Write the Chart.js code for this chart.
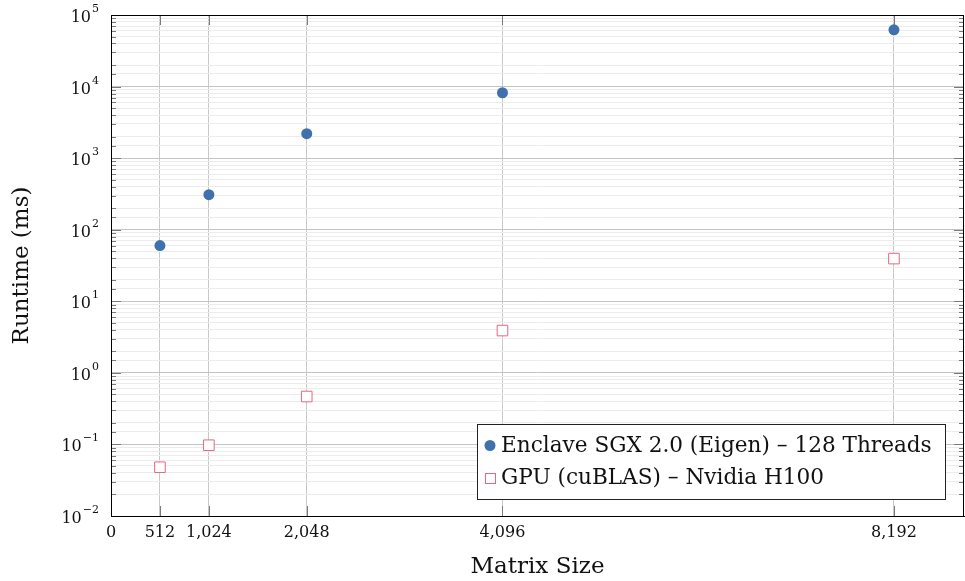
<!DOCTYPE html>
<html>
<head>
<meta charset="utf-8">
<script src="https://cdn.jsdelivr.net/npm/chart.js@4"></script>
<style>
  html, body { margin: 0; padding: 0; background: #fff; }
  #wrap { width: 965px; height: 581px; }
</style>
</head>
<body>
<div id="wrap"><canvas id="runtimeChart" width="965" height="581"></canvas></div>
<script>
// matrix sizes and runtimes (ms)
var sizes = [512, 1024, 2048, 4096, 8192];
var enclaveMs = [60, 309, 2200, 8200, 62000];
var gpuMs = [0.048, 0.0975, 0.467, 3.9, 39.5];
var xTicks = [0, 512, 1024, 2048, 4096, 8192];
var yDecades = [-2, -1, 0, 1, 2, 3, 4, 5];

var labelEnclave = 'Enclave SGX 2.0 (Eigen) \u2013 128 Threads';
var labelGpu = 'GPU (cuBLAS) \u2013 Nvidia H100';
var blue = '#3f72ad';
var pink = '#e8667f';
var serif = "'DejaVu Serif', serif";

function pairs(xs, ys) {
    var out = [];
    for (var i = 0; i < xs.length; i++) {
        out.push({ x: xs[i], y: ys[i] });
    }
    return out;
}

function isDecade(v) {
    var l = Math.log10(v);
    return Math.abs(l - Math.round(l)) < 1e-9;
}

// frame, inward ticks, y labels with exponents and the legend box
var decorPlugin = {
    id: 'decor',
    afterDraw: function (chart) {
        var ctx = chart.ctx;
        var a = chart.chartArea;
        var ys = chart.scales.y;
        var xs = chart.scales.x;
        ctx.save();

        // tick marks
        ctx.strokeStyle = '#7a7a7a';
        ctx.lineWidth = 1;
        ys.ticks.forEach(function (t) {
            var py = Math.round(ys.getPixelForValue(t.value)) + 0.5;
            var len = isDecade(t.value) ? 10 : 5;
            ctx.beginPath();
            ctx.moveTo(a.left, py); ctx.lineTo(a.left + len, py);
            ctx.moveTo(a.right, py); ctx.lineTo(a.right - len, py);
            ctx.stroke();
        });
        sizes.forEach(function (s) {
            var px = Math.round(xs.getPixelForValue(s)) + 0.5;
            ctx.beginPath();
            ctx.moveTo(px, a.bottom); ctx.lineTo(px, a.bottom - 10);
            ctx.moveTo(px, a.top); ctx.lineTo(px, a.top + 10);
            ctx.stroke();
        });

        // frame
        ctx.strokeStyle = '#000';
        ctx.strokeRect(Math.round(a.left) + 0.5, Math.round(a.top) + 0.5,
            Math.round(a.right - a.left) - 1, Math.round(a.bottom - a.top));

        // y labels 10^n
        ctx.fillStyle = '#111';
        ctx.textBaseline = 'alphabetic';
        yDecades.forEach(function (d) {
            var py = ys.getPixelForValue(Math.pow(10, d));
            var exp = String(d).replace('-', '\u2212');
            ctx.font = '11px ' + serif;
            var ew = ctx.measureText(exp).width;
            var right = a.left - 12;
            ctx.textAlign = 'left';
            ctx.fillText(exp, right - ew, py - 3);
            ctx.font = '16px ' + serif;
            ctx.textAlign = 'right';
            ctx.fillText('10', right - ew - 1, py + 7);
        });

        // legend
        var lx = 477, ly = 424, lw = 468, lh = 75;
        ctx.fillStyle = '#fff';
        ctx.fillRect(lx, ly, lw, lh);
        ctx.strokeStyle = '#222';
        ctx.strokeRect(lx + 0.5, ly + 0.5, lw, lh);
        ctx.fillStyle = blue;
        ctx.beginPath();
        ctx.arc(490, 445.5, 5.5, 0, Math.PI * 2);
        ctx.fill();
        ctx.strokeStyle = pink;
        ctx.fillStyle = '#fff';
        ctx.fillRect(485.5, 473.5, 10, 10);
        ctx.strokeRect(485.5, 473.5, 10, 10);
        ctx.fillStyle = '#111';
        ctx.font = '21.6px ' + serif;
        ctx.textAlign = 'left';
        ctx.textBaseline = 'middle';
        ctx.fillText(labelEnclave, 501, 446);
        ctx.fillText(labelGpu, 501, 478);
        ctx.restore();
    }
};

var ctx = document.getElementById('runtimeChart').getContext('2d');
var runtimeChart = new Chart(ctx, {
    type: 'scatter',
    data: {
        datasets: [
            {
                label: labelEnclave,
                data: pairs(sizes, enclaveMs),
                pointStyle: 'circle',
                pointRadius: 5.5,
                pointHoverRadius: 5.5,
                backgroundColor: blue,
                borderWidth: 0
            },
            {
                label: labelGpu,
                data: pairs(sizes, gpuMs),
                pointStyle: 'rect',
                pointRadius: 7.5,
                pointHoverRadius: 7.5,
                backgroundColor: '#fff',
                borderColor: pink,
                borderWidth: 1
            }
        ]
    },
    options: {
        responsive: false,
        animation: false,
        devicePixelRatio: 1,
        layout: { autoPadding: false, padding: { top: 15, right: 1, left: 0, bottom: 0 } },
        plugins: {
            legend: { display: false },
            tooltip: { enabled: false }
        },
        scales: {
            x: {
                type: 'linear',
                min: 0,
                max: 8925,
                afterBuildTicks: function (scale) {
                    scale.ticks = xTicks.map(function (v) { return { value: v }; });
                },
                afterFit: function (scale) {
                    scale.height = 65;
                    scale.paddingLeft = 0;
                    scale.paddingRight = 0;
                },
                grid: {
                    drawTicks: false,
                    color: function (c) {
                        return c.tick && c.tick.value === 0 ? 'rgba(0,0,0,0)' : '#c8c8c8';
                    }
                },
                border: { display: true, color: '#000' },
                ticks: {
                    padding: 7,
                    autoSkip: false,
                    maxRotation: 0,
                    color: '#111',
                    font: { family: serif, size: 16 },
                    callback: function (v) { return v.toLocaleString('en-US'); }
                },
                title: {
                    display: true,
                    text: 'Matrix Size',
                    color: '#111',
                    font: { family: serif, size: 23 },
                    padding: { top: 0, bottom: 0 }
                }
            },
            y: {
                type: 'logarithmic',
                min: 0.01,
                max: 100000,
                afterFit: function (scale) { scale.width = 111; },
                grid: {
                    drawTicks: false,
                    color: function (c) {
                        return c.tick && isDecade(c.tick.value) ? '#c4c4c4' : '#ececec';
                    }
                },
                border: { display: false },
                ticks: { display: false, autoSkip: false },
                title: {
                    display: true,
                    text: 'Runtime (ms)',
                    color: '#111',
                    font: { family: serif, size: 23 },
                    padding: { top: 8, bottom: 0 }
                }
            }
        }
    },
    plugins: [decorPlugin]
});
</script>
</body>
</html>
